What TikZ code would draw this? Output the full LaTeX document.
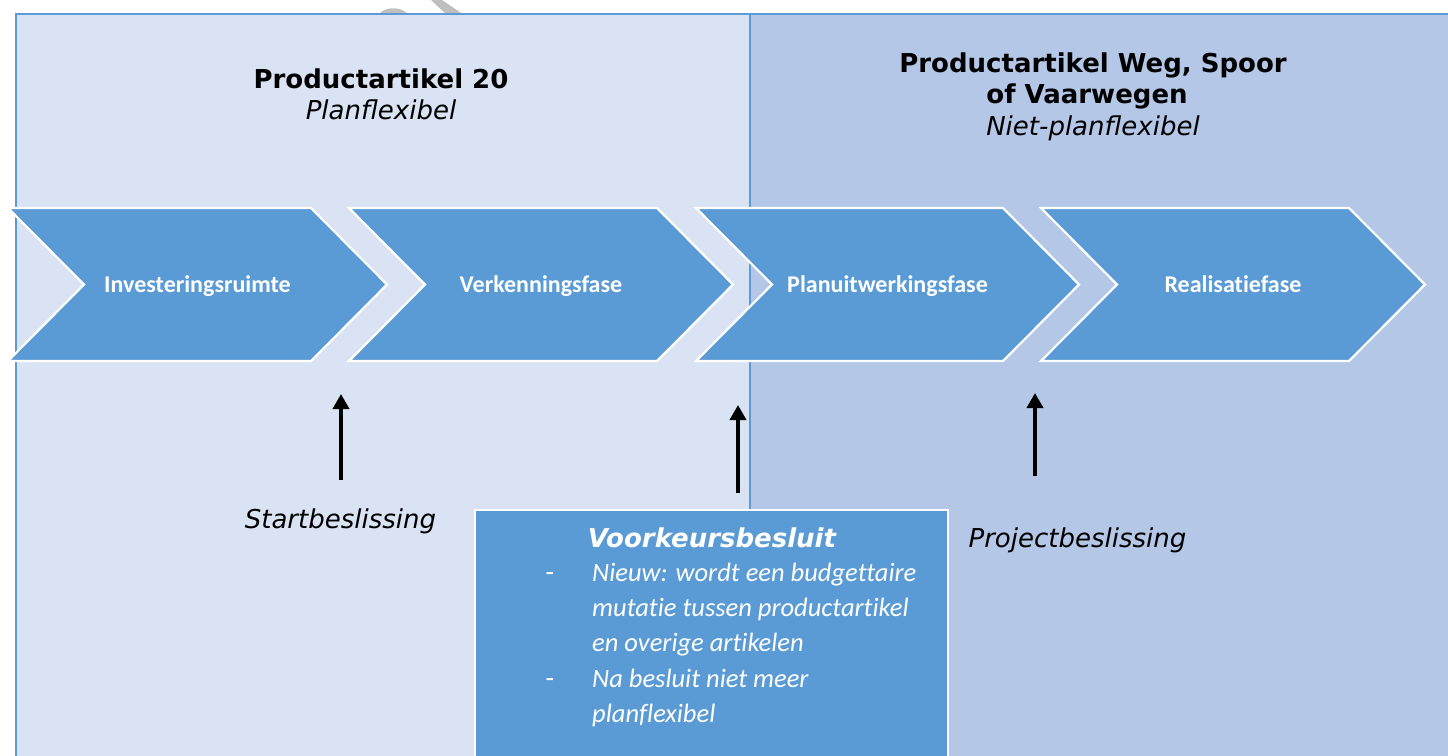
\documentclass[tikz,border=0pt]{standalone}
\usepackage{fontspec}
\setmainfont{DejaVu Sans}
\newfontfamily\calfont[Ligatures={NoCommon,NoRequired,NoContextual}]{Carlito}
\usetikzlibrary{arrows.meta}
\definecolor{panelL}{HTML}{DAE3F3}
\definecolor{panelR}{HTML}{B4C7E7}
\definecolor{accent}{HTML}{5B9BD5}
\definecolor{wmgray}{HTML}{BFBFBF}
\newcommand\chevshape[4]{%
  \fill[accent, draw=white, line width=2.2pt, line join=miter]
    (#2,208) -- (#3,208) -- (#3+76,284.5) -- (#3,361) -- (#2,361) -- (#2+76,284.5) -- cycle;
  \node[phasetext] (#1) at ({(#2+#3+76)/2},292) {#4};
}
\begin{document}
\begin{tikzpicture}[x=1pt,y=-1pt,
  titleb/.style={anchor=base, font=\bfseries\fontsize{26}{31}\selectfont, text=black, inner sep=0},
  titlei/.style={anchor=base, font=\itshape\fontsize{26}{31}\selectfont, text=black, inner sep=0},
  phasetext/.style={anchor=base, font=\calfont\bfseries\fontsize{24}{28}\selectfont, text=white, inner sep=0},
  bullettext/.style={anchor=base west, font=\calfont\itshape\fontsize{26.5}{31}\selectfont, text=white, inner sep=0},
  dashtext/.style={anchor=base, font=\calfont\fontsize{28}{31}\selectfont, text=white, inner sep=0},
  decision/.style={-{Triangle[length=15pt,width=16pt]}, line width=3.6pt, black}
]
\useasboundingbox (0,0) rectangle (1448,755);
\clip (0,0) rectangle (1448,755);
\fill[white] (0,0) rectangle (1448,755);
% watermark fragments
\fill[wmgray] (379,15) .. controls (383,6) and (403,6) .. (408,15) -- cycle;
\fill[wmgray] (431,0) -- (442,0) -- (464,15) -- (447,15) -- cycle;
% panels
\draw[draw=accent, fill=panelL, line width=1.6pt] (16,14) rectangle (750,800);
\draw[draw=accent, fill=panelR, line width=1.6pt] (750,14) rectangle (1500,800);
% titles
\node[titleb] (lt1) at (381,88) {Productartikel 20};
\node[titlei] (lt2) at (381,119) {Planflexibel};
\node[titleb] (rt1) at (1093,72) {Productartikel Weg, Spoor};
\node[titleb] (rt2) at (1087,103) {of Vaarwegen};
\node[titlei] (rt3) at (1093,135) {Niet-planflexibel};
% chevrons
\chevshape{c1}{8}{311}{Investeringsruimte}
\chevshape{c2}{349}{657}{Verkenningsfase}
\chevshape{c3}{696}{1003}{Planuitwerkingsfase}
\chevshape{c4}{1041}{1349}{Realisatiefase}
% decision arrows
\coordinate (a1s) at (341,480);
\coordinate (a1e) at (341,394);
\coordinate (a2s) at (738,493);
\coordinate (a2e) at (738,405);
\coordinate (a3s) at (1035,476);
\coordinate (a3e) at (1035,393);
\draw[decision] (a1s) -- (a1e);
\draw[decision] (a2s) -- (a2e);
\draw[decision] (a3s) -- (a3e);
\node[titlei] (sb) at (340.5,528) {Startbeslissing};
\node[titlei] (pb) at (1077.5,547) {Projectbeslissing};
% Voorkeursbesluit box
\draw[fill=accent, draw=white, line width=1.6pt] (475,510) rectangle (948,800);
\node[titleb, font=\bfseries\itshape\fontsize{26}{31}\selectfont, text=white] (vb) at (712,547) {Voorkeursbesluit};
\node[dashtext] (d1) at (550,581) {-};
\node[dashtext] (d2) at (550,687) {-};
\node[bullettext] (b1) at (592,581) {Nieuw: wordt een budgettaire};
\node[bullettext] (b2) at (592,616) {mutatie tussen productartikel};
\node[bullettext] (b3) at (592,651) {en overige artikelen};
\node[bullettext] (b4) at (592,687) {Na besluit niet meer};
\node[bullettext] (b5) at (592,722) {planflexibel};
\end{tikzpicture}
\end{document}
